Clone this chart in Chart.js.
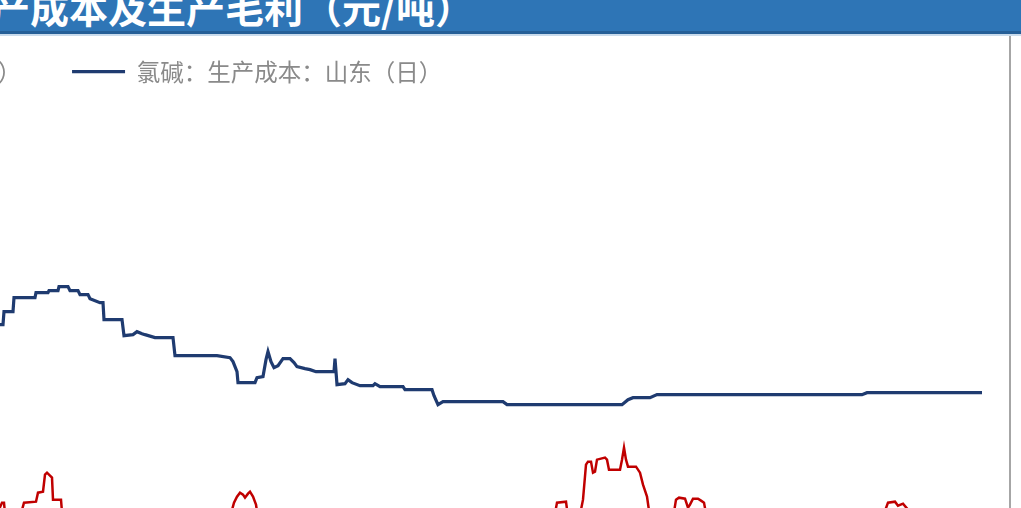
<!DOCTYPE html>
<html>
<head>
<meta charset="utf-8">
<script src="https://cdn.jsdelivr.net/npm/chart.js@4.4.1/dist/chart.umd.min.js"></script>
<style>
  html, body { margin: 0; padding: 0; background: #ffffff; }
  body { width: 1021px; height: 508px; overflow: hidden; position: relative; }
  #titlebar { position: absolute; left: 0; top: 0; width: 1021px; height: 31px; background: #2E75B6; overflow: hidden; z-index: 3; }
  #titleedge { position: absolute; left: 0; top: 31px; width: 1021px; height: 3px; background: #255f97; z-index: 3; }
  #titleline { position: absolute; left: 0; top: 34px; width: 1021px; height: 2px; background: #c9dbec; z-index: 3; }
  #titletext { position: absolute; left: -9px; top: -13px; font-family: "Noto Sans CJK SC", sans-serif; font-weight: 700; font-size: 39px; line-height: 39px; color: #ffffff; white-space: nowrap; }
  #wrap { position: absolute; left: -400px; top: 9.35px; width: 1400px; height: 720px; z-index: 1; }
  #rightborder { position: absolute; left: 1009px; top: 36px; width: 2px; height: 472px; background: #a6a6a6; z-index: 2; }
</style>
</head>
<body>
<div id="titlebar"><div id="titletext">产成本及生产毛利（元/吨）</div></div>
<div id="titleedge"></div>
<div id="titleline"></div>
<div id="wrap"><canvas id="c" width="1400" height="720"></canvas></div>
<div id="rightborder"></div>
<script>
// Series names
const seriesNames = ["氯碱：生产毛利：山东（日）", "氯碱：生产成本：山东（日）"];

// 生产成本 (元/吨): day index and value
const costDays = [250,330,332,370,372,403,404,413,414,435,436,448,449,458,459,468,470,478,480,488,490,500,503,504,522,524,533,537,542,545,555,573,575,617,630,633,637,638,655,657,663,666,668,671,674,678,683,690,694,697,705,710,716,734,735,736,737,745,748,752,760,773,775,780,803,805,832,834,838,843,903,907,1022,1028,1033,1050,1057,1262,1267,1382];
const costValues = [2190,2190,2300,2310,2375,2375,2440,2440,2510,2510,2535,2535,2545,2545,2565,2565,2545,2545,2525,2525,2505,2485,2485,2400,2400,2320,2325,2340,2330,2325,2310,2310,2220,2220,2210,2190,2140,2085,2085,2110,2115,2200,2240,2190,2160,2170,2205,2205,2185,2165,2155,2150,2140,2140,2205,2140,2075,2080,2100,2085,2070,2070,2080,2065,2065,2050,2050,2020,1975,1990,1990,1975,1975,2000,2010,2010,2025,2025,2035,2035];

// 生产毛利 (元/吨)
const profitDays = [250,340,390,402,404,406,418,424,436,438,443,445,447,450,452,453,461,463,500,550,600,628,634,637,640,643,645,648,650,653,656,659,700,750,820,880,930,953,957,966,969,978,983,986,988,991,993,995,997,1005,1007,1009,1020,1022,1024,1026,1028,1036,1040,1043,1047,1051,1065,1072,1076,1079,1085,1088,1090,1093,1098,1101,1104,1108,1160,1220,1280,1288,1295,1298,1303,1308,1312,1350,1382];
const profitValues = [1200,1275,1350,1485,1485,1375,1375,1485,1490,1535,1540,1625,1635,1620,1610,1500,1500,1375,1275,1200,1300,1375,1485,1515,1535,1525,1510,1530,1540,1515,1475,1375,1325,1200,1100,1125,1250,1375,1485,1490,1375,1375,1500,1675,1690,1690,1635,1640,1700,1710,1700,1650,1650,1700,1760,1700,1665,1665,1635,1575,1515,1375,1350,1375,1500,1510,1505,1460,1475,1505,1505,1495,1485,1375,1275,1300,1375,1485,1490,1470,1480,1450,1375,1325,1350];

const toPoints = (xs, ys) => xs.map((x, i) => ({ x: x, y: ys[i] }));

new Chart(document.getElementById('c'), {
  type: 'line',
  data: {
    datasets: [
      {
        label: seriesNames[0],
        data: toPoints(profitDays, profitValues),
        borderColor: '#C00000',
        backgroundColor: '#C00000',
        borderWidth: 2.5,
        pointRadius: 0,
        tension: 0,
        pointStyle: 'line'
      },
      {
        label: seriesNames[1],
        data: toPoints(costDays, costValues),
        borderColor: '#1F3B70',
        backgroundColor: '#1F3B70',
        borderWidth: 3.2,
        pointRadius: 0,
        tension: 0,
        pointStyle: 'line'
      }
    ]
  },
  options: {
    responsive: false,
    animation: false,
    devicePixelRatio: 1,
    layout: { padding: 0 },
    scales: {
      x: { type: 'linear', display: false, min: 0, max: 1400 },
      y: { type: 'linear', display: false, min: 353.25, max: 3531.25 }
    },
    plugins: {
      tooltip: { enabled: false },
      legend: {
        display: true,
        position: 'top',
        align: 'start',
        labels: {
          usePointStyle: true,
          pointStyleWidth: 53,
          padding: 50.9,
          color: '#8a8a8a',
          font: { family: '"Noto Sans CJK SC", sans-serif', size: 23.5, weight: 'normal' }
        }
      }
    }
  }
});
</script>
</body>
</html>
